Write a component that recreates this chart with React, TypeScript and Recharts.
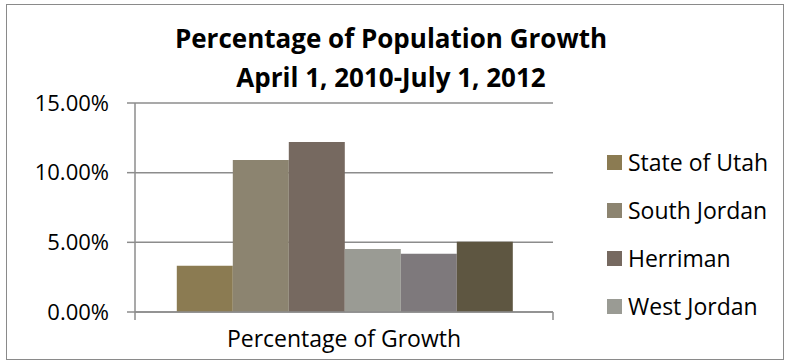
import { BarChart, Bar, XAxis, YAxis, CartesianGrid } from 'recharts';

const categories = ['Percentage of Growth'];
const seriesNames = ['State of Utah', 'South Jordan', 'Herriman', 'West Jordan', 'Riverton', 'Bluffdale'];
const seriesValues = [3.32, 10.91, 12.2, 4.53, 4.18, 5.04];
const seriesColors = ['#8b7b52', '#8c8470', '#766960', '#9a9b94', '#7e797c', '#5e5641'];
const yTicks = [0, 5, 10, 15];
// the original legend box is too short, only the first four entries fit
const legendCount = 4;

const data = categories.map((name) => {
  const row: Record<string, string | number> = { name };
  seriesNames.forEach((s, i) => {
    row[s] = seriesValues[i];
  });
  return row;
});

const FONT = '"Open Sans", "Noto Sans", sans-serif';

const XTick = (props: any) => {
  const { x, y, payload, width } = props;
  const half = (width ?? 418) / 2;
  return (
    <g>
      <line x1={x - half} y1={y - 8} x2={x - half} y2={y} stroke="#8c8c8c" strokeWidth={1.5} />
      <line x1={x + half} y1={y - 8} x2={x + half} y2={y} stroke="#8c8c8c" strokeWidth={1.5} />
      <text x={x} y={y + 27} textAnchor="middle" fill="#000" fontSize={23} fontFamily={FONT}>
        {payload.value}
      </text>
    </g>
  );
};

const LegendBox = () => (
  <div style={{ position: 'absolute', left: 607, top: 138, fontFamily: FONT, fontSize: 23 }}>
    {seriesNames.slice(0, legendCount).map((s, i) => (
      <div key={s} style={{ display: 'flex', alignItems: 'center', height: 48 }}>
        <span style={{ width: 15, height: 15, background: seriesColors[i], marginRight: 6 }} />
        <span style={{ color: '#000' }}>{s}</span>
      </div>
    ))}
  </div>
);

export default function App() {
  return (
    <div style={{ position: 'absolute', left: 0, top: 0, width: 789, height: 364, background: '#fff' }}>
      <div
        style={{
          position: 'absolute',
          left: 6,
          top: 4,
          width: 778,
          height: 356,
          border: '1.5px solid #8a8a8a',
          boxSizing: 'border-box',
        }}
      />
      <div
        style={{
          position: 'absolute',
          left: 0,
          top: 19,
          width: 782,
          textAlign: 'center',
          fontFamily: FONT,
          fontWeight: 700,
          fontSize: 26,
          lineHeight: '39px',
          color: '#000',
        }}
      >
        Percentage of Population Growth
        <br />
        April 1, 2010-July 1, 2012
      </div>
      <BarChart
        width={789}
        height={364}
        data={data}
        margin={{ top: 103, right: 236, bottom: 12, left: 0 }}
        barCategoryGap="10%"
        barGap={0}
        style={{ position: 'absolute', left: 0, top: 0 }}
      >
        <CartesianGrid vertical={false} stroke="#8c8c8c" strokeWidth={1.5} />
        <XAxis
          dataKey="name"
          height={40}
          axisLine={{ stroke: '#8c8c8c', strokeWidth: 1.5 }}
          tickLine={false}
          tick={<XTick />}
          interval={0}
        />
        <YAxis
          width={135}
          domain={[0, 15]}
          ticks={yTicks}
          interval={0}
          tickFormatter={(v: number) => v.toFixed(2) + '%'}
          axisLine={{ stroke: '#8c8c8c', strokeWidth: 1.5 }}
          tickLine={{ stroke: '#8c8c8c', strokeWidth: 1.5 }}
          tickSize={8}
          tickMargin={18}
          tick={{ fill: '#000', fontSize: 22, fontFamily: FONT }}
        />
        {seriesNames.map((s, i) => (
          <Bar key={s} dataKey={s} fill={seriesColors[i]} isAnimationActive={false} />
        ))}
      </BarChart>
      <LegendBox />
    </div>
  );
}
